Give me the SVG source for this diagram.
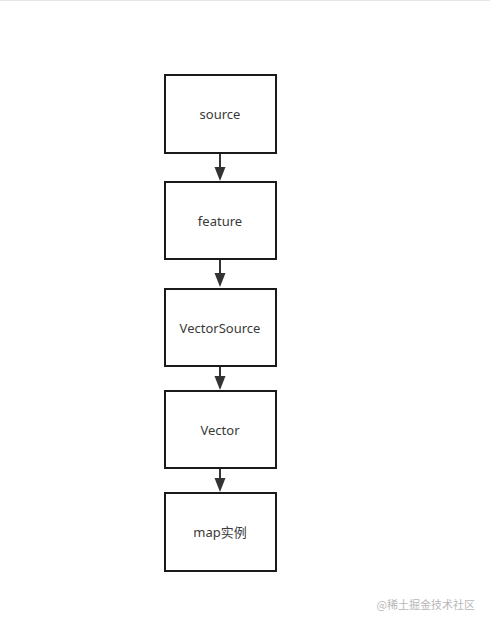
<svg xmlns="http://www.w3.org/2000/svg" width="490" height="625" viewBox="0 0 490 625">
<style>
.box{fill:#fff;stroke:#1a1a1a;stroke-width:2}
.lbl{font-family:"Noto Sans","Noto Sans CJK SC",sans-serif;font-size:13px;fill:#3a3a3a;text-anchor:middle;dominant-baseline:central}
.edge{stroke:#333;stroke-width:2;fill:none}
.head{fill:#333}
</style>
<rect width="490" height="625" fill="#fff"/>
<line x1="0" y1="0.5" x2="490" y2="0.5" stroke="#e6e6e6"/>
<g id="connectors">
<line class="edge" x1="220" y1="153" x2="220" y2="168"/>
<path class="head" d="M214.5,167 L225.5,167 L220,181 Z"/>
<line class="edge" x1="220" y1="259" x2="220" y2="274"/>
<path class="head" d="M214.5,273 L225.5,273 L220,287 Z"/>
<line class="edge" x1="220" y1="366" x2="220" y2="377"/>
<path class="head" d="M214.5,376 L225.5,376 L220,390 Z"/>
<line class="edge" x1="220" y1="468" x2="220" y2="479"/>
<path class="head" d="M214.5,478 L225.5,478 L220,492 Z"/>
</g>
<g id="source"><rect class="box" x="165" y="75" width="111" height="78"/><text class="lbl" x="220" y="114">source</text></g>
<g id="feature"><rect class="box" x="165" y="182" width="111" height="77"/><text class="lbl" x="220" y="221">feature</text></g>
<g id="VectorSource"><rect class="box" x="165" y="289" width="111" height="77"/><text class="lbl" x="220" y="328">VectorSource</text></g>
<g id="Vector"><rect class="box" x="165" y="391" width="111" height="77"/><text class="lbl" x="220" y="430">Vector</text></g>
<g id="map"><rect class="box" x="165" y="493" width="111" height="78"/><text class="lbl" x="220" y="532">map实例</text></g>
<text x="475" y="604" font-family="Noto Sans CJK SC,sans-serif" font-size="11" fill="#b8b8b8" text-anchor="end" dominant-baseline="central">@稀土掘金技术社区</text>
</svg>
